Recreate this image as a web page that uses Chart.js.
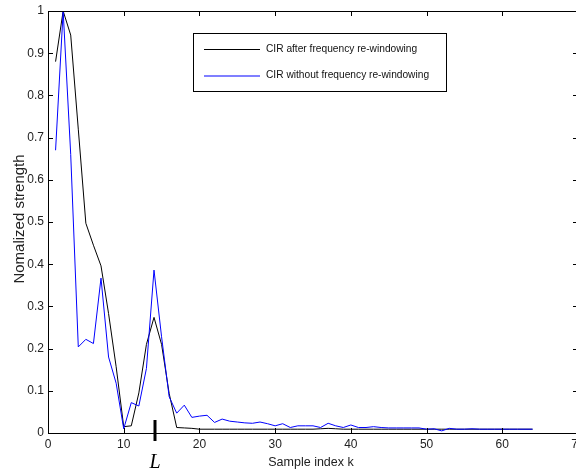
<!DOCTYPE html>
<html>
<head>
<meta charset="utf-8">
<script src="https://cdn.jsdelivr.net/npm/chart.js@4.4.1/dist/chart.umd.min.js"></script>
<style>
  html, body { margin: 0; padding: 0; background: #fff; overflow: hidden; }
  #wrap { position: absolute; left: 0; top: 0; width: 582px; height: 475px; }
</style>
</head>
<body>
<div id="wrap"><canvas id="cirChart" width="582" height="475"></canvas></div>
<script>
// sample index k
const sampleIdx = [1, 2, 3, 4, 5, 6, 7, 8, 9, 10, 11, 12, 13, 14, 15, 16, 17, 18, 19, 20,
  21, 22, 23, 24, 25, 26, 27, 28, 29, 30, 31, 32, 33, 34, 35, 36, 37, 38, 39, 40,
  41, 42, 43, 44, 45, 46, 47, 48, 49, 50, 51, 52, 53, 54, 55, 56, 57, 58, 59, 60,
  61, 62, 63, 64];

// CIR after frequency re-windowing (black)
const cirAfter = [0.88, 1.0, 0.943, 0.72, 0.497, 0.445, 0.396, 0.283, 0.157, 0.015,
  0.017, 0.095, 0.21, 0.274, 0.21, 0.094, 0.013, 0.012, 0.011, 0.009,
  0.009, 0.009, 0.009, 0.009, 0.009, 0.009, 0.009, 0.009, 0.009, 0.009,
  0.009, 0.009, 0.009, 0.009, 0.009, 0.010, 0.011, 0.010, 0.009, 0.009,
  0.009, 0.009, 0.009, 0.009, 0.009, 0.009, 0.009, 0.009, 0.009, 0.009,
  0.009, 0.009, 0.009, 0.009, 0.009, 0.009, 0.009, 0.009, 0.009, 0.009,
  0.009, 0.009, 0.009, 0.009];

// CIR without frequency re-windowing (blue)
const cirWithout = [0.67, 1.0, 0.66, 0.204, 0.222, 0.212, 0.367, 0.18, 0.118, 0.01,
  0.072, 0.064, 0.153, 0.386, 0.228, 0.086, 0.047, 0.066, 0.037, 0.04,
  0.042, 0.025, 0.033, 0.028, 0.026, 0.024, 0.023, 0.026, 0.022, 0.017,
  0.022, 0.013, 0.017, 0.017, 0.017, 0.013, 0.023, 0.017, 0.013, 0.019,
  0.013, 0.013, 0.015, 0.013, 0.012, 0.012, 0.012, 0.012, 0.012, 0.009,
  0.010, 0.005, 0.011, 0.009, 0.009, 0.010, 0.009, 0.009, 0.009, 0.009,
  0.009, 0.009, 0.009, 0.009];

const seriesLabels = ['CIR after frequency re-windowing', 'CIR without frequency re-windowing'];
const seriesColors = ['#000000', '#0000ff'];
const xTicks = [0, 10, 20, 30, 40, 50, 60, 70];
const yTicks = [0, 0.1, 0.2, 0.3, 0.4, 0.5, 0.6, 0.7, 0.8, 0.9, 1];
const markerK = 14;     // channel length L

const pts = (ys) => ys.map((v, i) => ({ x: sampleIdx[i], y: v }));

// box, inward ticks, legend, titles, L marker
const decorations = {
  id: 'decorations',
  afterDraw(chart) {
    const { ctx, chartArea: a, scales: { x, y } } = chart;
    ctx.save();
    ctx.strokeStyle = '#000';
    ctx.lineWidth = 1;
    ctx.strokeRect(a.left + 0.5, a.top + 0.5, a.right - a.left, a.bottom - a.top);
    ctx.beginPath();
    xTicks.forEach(t => {
      const px = Math.round(x.getPixelForValue(t)) + 0.5;
      ctx.moveTo(px, a.bottom); ctx.lineTo(px, a.bottom - 5);
      ctx.moveTo(px, a.top); ctx.lineTo(px, a.top + 5);
    });
    yTicks.forEach(t => {
      const py = Math.round(y.getPixelForValue(t)) + 0.5;
      ctx.moveTo(a.left, py); ctx.lineTo(a.left + 5, py);
      ctx.moveTo(a.right, py); ctx.lineTo(a.right - 5, py);
    });
    ctx.stroke();

    // legend
    const lx = 193.5, ly = 33.5, lw = 253, lh = 58;
    ctx.fillStyle = '#fff';
    ctx.fillRect(lx, ly, lw, lh);
    ctx.strokeStyle = '#000';
    ctx.strokeRect(lx, ly, lw, lh);
    ctx.font = '10.2px "Liberation Sans", Arial, sans-serif';
    ctx.textBaseline = 'middle';
    ctx.textAlign = 'left';
    [49.5, 76].forEach((ry, i) => {
      ctx.strokeStyle = seriesColors[i];
      ctx.lineWidth = i === 1 ? 1.2 : 1;
      ctx.beginPath(); ctx.moveTo(204, ry); ctx.lineTo(260, ry); ctx.stroke();
      ctx.fillStyle = '#111';
      ctx.fillText(seriesLabels[i], 266, Math.round(ry) - 0.5);
    });
    ctx.lineWidth = 1;

    // axis titles
    ctx.fillStyle = '#222';
    ctx.textAlign = 'center';
    ctx.font = '12.5px "Liberation Sans", Arial, sans-serif';
    ctx.fillText('Sample index k', (a.left + a.right) / 2 - 2, 463);
    ctx.save();
    ctx.translate(20, 219);
    ctx.rotate(-Math.PI / 2);
    ctx.font = '15px "Liberation Sans", Arial, sans-serif';
    ctx.fillText('Nomalized strength', 0, 0);
    ctx.restore();

    // L marker
    const mx = x.getPixelForValue(markerK) + 1;
    ctx.strokeStyle = '#000';
    ctx.lineWidth = 3;
    ctx.beginPath(); ctx.moveTo(mx, a.bottom - 13); ctx.lineTo(mx, a.bottom + 8); ctx.stroke();
    ctx.fillStyle = '#000';
    ctx.font = 'italic 20px "Liberation Serif", "DejaVu Serif", serif';
    ctx.fillText('L', mx, 463);
    ctx.restore();
  }
};

new Chart(document.getElementById('cirChart'), {
  type: 'line',
  data: {
    datasets: [
      { label: seriesLabels[0], data: pts(cirAfter),
        borderColor: seriesColors[0], borderWidth: 1, pointRadius: 0, tension: 0, order: 1 },
      { label: seriesLabels[1], data: pts(cirWithout),
        borderColor: seriesColors[1], borderWidth: 1, pointRadius: 0, tension: 0, order: 0 }
    ]
  },
  options: {
    responsive: false,
    animation: false,
    devicePixelRatio: 1,
    layout: { padding: { top: 11, right: 4, left: 0, bottom: 0 } },
    plugins: { legend: { display: false }, tooltip: { enabled: false } },
    scales: {
      x: {
        type: 'linear', min: 0, max: 70,
        afterBuildTicks: (s) => { s.ticks = xTicks.map(v => ({ value: v })); },
        afterFit: (s) => { s.height = 42; s.paddingLeft = 0; s.paddingRight = 0; },
        grid: { display: false, drawTicks: false },
        border: { display: false },
        ticks: { padding: 4, color: '#222', font: { family: '"Liberation Sans", Arial', size: 12 },
                 autoSkip: false, maxRotation: 0 }
      },
      y: {
        min: 0, max: 1,
        afterBuildTicks: (s) => { s.ticks = yTicks.map(v => ({ value: v })); },
        afterFit: (s) => { s.width = 48; s.paddingTop = 0; s.paddingBottom = 0; },
        grid: { display: false, drawTicks: false },
        border: { display: false },
        ticks: { padding: 4, color: '#222', font: { family: '"Liberation Sans", Arial', size: 12 },
                 autoSkip: false, callback: (v) => String(v) }
      }
    }
  },
  plugins: [decorations]
});
</script>
</body>
</html>
